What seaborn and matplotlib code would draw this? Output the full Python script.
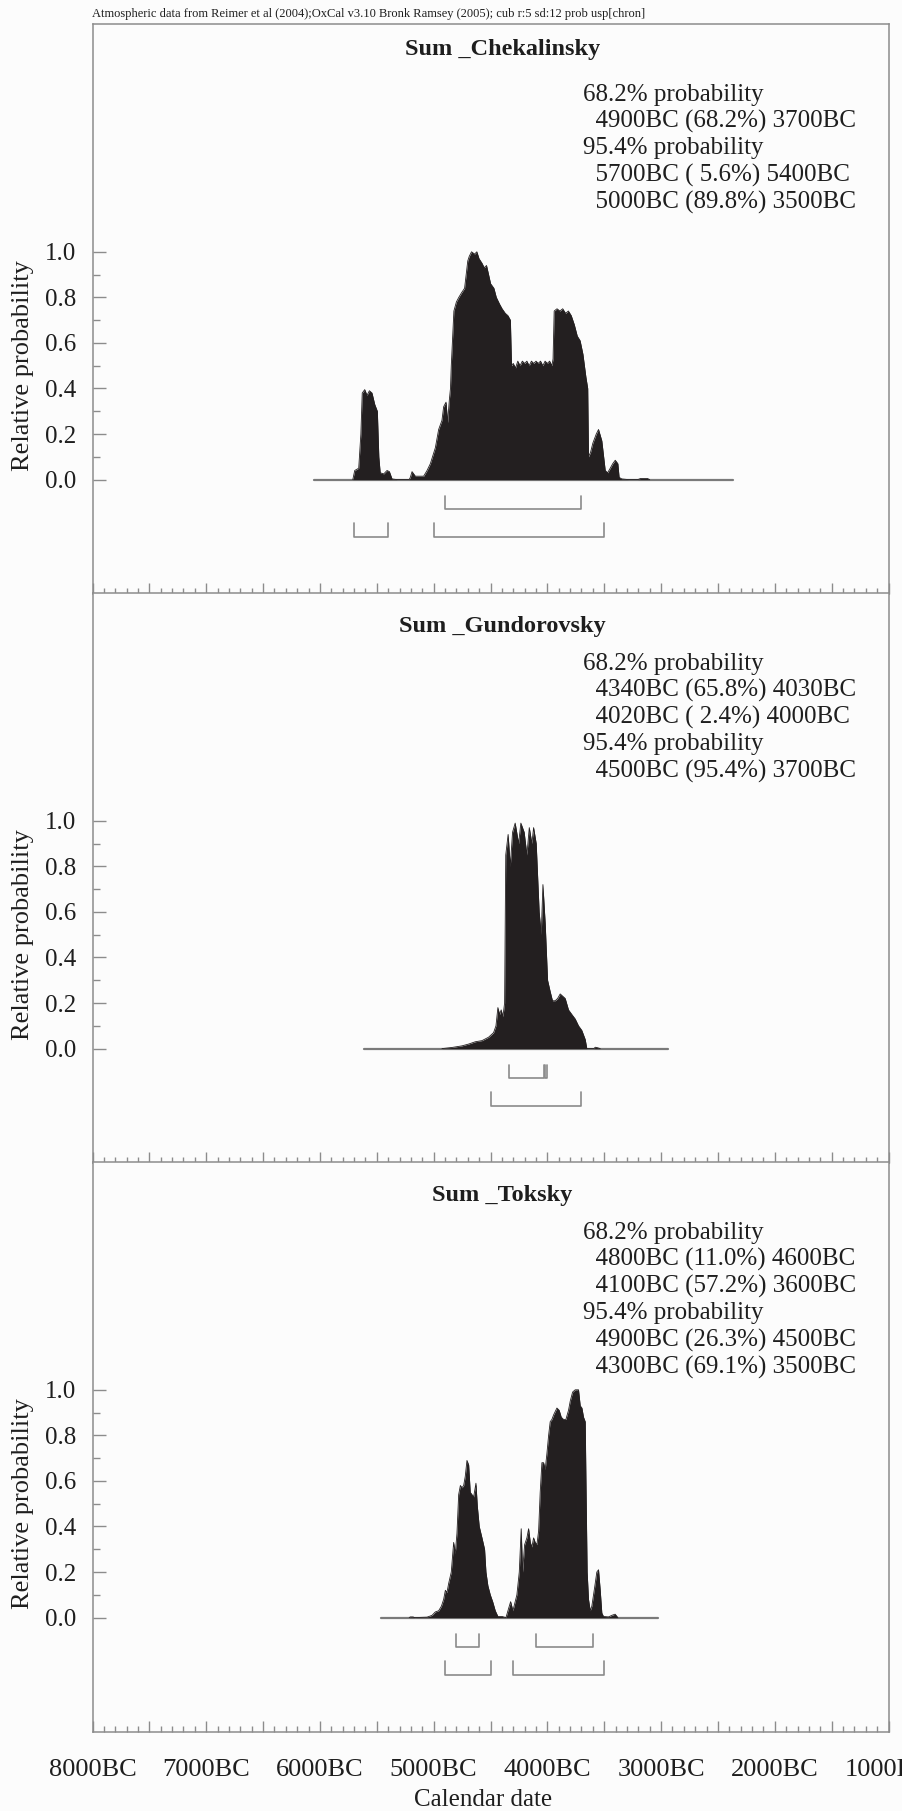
import numpy as np
import pandas as pd
import matplotlib
matplotlib.use("Agg")
import matplotlib.pyplot as plt
import matplotlib.transforms as mtransforms
import seaborn as sns

# Datos (años negativos = BC)
header = ("Atmospheric data from Reimer et al (2004);OxCal v3.10 Bronk Ramsey (2005); "
          "cub r:5 sd:12 prob usp[chron]")

titles = ["Sum _Chekalinsky", "Sum _Gundorovsky", "Sum _Toksky"]

texts_chek = ["68.2% probability", "  4900BC (68.2%) 3700BC",
              "95.4% probability", "  5700BC ( 5.6%) 5400BC", "  5000BC (89.8%) 3500BC"]
texts_gund = ["68.2% probability", "  4340BC (65.8%) 4030BC", "  4020BC ( 2.4%) 4000BC",
              "95.4% probability", "  4500BC (95.4%) 3700BC"]
texts_toks = ["68.2% probability", "  4800BC (11.0%) 4600BC", "  4100BC (57.2%) 3600BC",
              "95.4% probability", "  4900BC (26.3%) 4500BC", "  4300BC (69.1%) 3500BC"]

range68_chek = [(-4900, -3700)]
range95_chek = [(-5700, -5400), (-5000, -3500)]
range68_gund = [(-4340, -4030), (-4020, -4000)]
range95_gund = [(-4500, -3700)]
range68_toks = [(-4800, -4600), (-4100, -3600)]
range95_toks = [(-4900, -4500), (-4300, -3500)]

base_chek = (-6050, -2365)
base_gund = (-5615, -2940)
base_toks = (-5465, -3028)

years_chek = [-5711, -5694, -5659, -5640, -5628, -5606, -5586, -5565, -5542, -5518, -5495,
              -5482, -5470, -5439, -5410, -5389, -5366, -5322, -5215, -5205, -5190, -5161,
              -5088, -5058, -5029, -4985, -4956, -4927, -4912, -4891, -4877, -4862, -4852,
              -4845, -4822, -4800, -4779, -4755, -4728, -4700, -4687, -4667, -4640, -4620,
              -4601, -4575, -4555, -4535, -4499, -4470, -4449, -4420, -4398, -4370, -4347,
              -4325, -4315, -4300, -4280, -4260, -4240, -4220, -4200, -4180, -4160, -4140,
              -4120, -4100, -4080, -4060, -4040, -4020, -4000, -3980, -3960, -3950, -3940,
              -3915, -3890, -3865, -3840, -3815, -3790, -3763, -3737, -3712, -3687, -3661,
              -3645, -3638, -3620, -3600, -3570, -3550, -3521, -3491, -3470, -3447, -3425,
              -3403, -3380, -3369, -3346, -3287, -3205, -3180, -3120, -3100]
prob_chek = [0.0, 0.04, 0.05, 0.2, 0.38, 0.395, 0.37, 0.39, 0.38, 0.33, 0.30,
             0.10, 0.03, 0.025, 0.04, 0.035, 0.003, 0.0, 0.0, 0.01, 0.035, 0.015,
             0.015, 0.04, 0.07, 0.14, 0.22, 0.26, 0.32, 0.34, 0.25, 0.35, 0.40,
             0.50, 0.74, 0.78, 0.80, 0.82, 0.84, 0.96, 0.98, 1.0, 0.99, 1.0,
             0.97, 0.95, 0.93, 0.94, 0.86, 0.84, 0.80, 0.77, 0.75, 0.73, 0.72,
             0.70, 0.50, 0.51, 0.49, 0.52, 0.50, 0.52, 0.51, 0.52, 0.50, 0.52,
             0.51, 0.52, 0.51, 0.52, 0.50, 0.52, 0.51, 0.52, 0.50, 0.53, 0.74,
             0.75, 0.74, 0.75, 0.73, 0.74, 0.72, 0.68, 0.63, 0.61, 0.55, 0.45,
             0.40, 0.10, 0.12, 0.16, 0.20, 0.22, 0.17, 0.04, 0.03, 0.05, 0.07,
             0.085, 0.07, 0.01, 0.003, 0.0, 0.0, 0.005, 0.005, 0.0]

years_gund = [-4927, -4839, -4751, -4692, -4634, -4575, -4517, -4473, -4452, -4435, -4420,
              -4406, -4391, -4376, -4366, -4345, -4326, -4306, -4283, -4253, -4233, -4204,
              -4180, -4159, -4136, -4121, -4098, -4072, -4054, -4039, -4019, -3998, -3975,
              -3955, -3931, -3910, -3887, -3865, -3843, -3814, -3785, -3755, -3726, -3697,
              -3667, -3653, -3638, -3590, -3579, -3560, -3535]
prob_gund = [0.0, 0.005, 0.012, 0.02, 0.03, 0.035, 0.05, 0.07, 0.10, 0.18, 0.15,
             0.17, 0.14, 0.20, 0.85, 0.94, 0.80, 0.95, 0.99, 0.90, 0.99, 0.95,
             0.85, 0.97, 0.90, 0.97, 0.90, 0.60, 0.50, 0.72, 0.55, 0.30, 0.25,
             0.21, 0.21, 0.22, 0.24, 0.23, 0.22, 0.17, 0.15, 0.13, 0.10, 0.08,
             0.04, 0.0, 0.0, 0.0, 0.006, 0.004, 0.0]

years_toks = [-5215, -5205, -5180, -5170, -5058, -5014, -4985, -4956, -4932, -4912, -4897,
              -4883, -4868, -4845, -4824, -4810, -4795, -4780, -4765, -4751, -4736, -4722,
              -4707, -4692, -4678, -4663, -4648, -4628, -4616, -4599, -4575, -4552, -4540,
              -4523, -4502, -4481, -4458, -4435, -4399, -4364, -4341, -4323, -4303, -4268,
              -4247, -4230, -4218, -4200, -4180, -4165, -4150, -4136, -4121, -4107, -4092,
              -4077, -4063, -4048, -4033, -4019, -4004, -3989, -3975, -3960, -3945, -3916,
              -3896, -3878, -3858, -3837, -3814, -3799, -3778, -3755, -3726, -3711, -3696,
              -3682, -3667, -3658, -3650, -3638, -3623, -3609, -3585, -3565, -3550, -3535,
              -3521, -3506, -3462, -3433, -3404, -3380]
prob_toks = [0.0, 0.003, 0.003, 0.0, 0.002, 0.01, 0.025, 0.03, 0.05, 0.08, 0.12,
             0.11, 0.15, 0.20, 0.33, 0.28, 0.37, 0.54, 0.58, 0.57, 0.58, 0.62,
             0.69, 0.67, 0.55, 0.54, 0.53, 0.59, 0.49, 0.40, 0.35, 0.30, 0.20,
             0.14, 0.10, 0.07, 0.03, 0.005, 0.005, 0.0, 0.04, 0.07, 0.03, 0.10,
             0.20, 0.39, 0.20, 0.32, 0.35, 0.39, 0.33, 0.31, 0.35, 0.33, 0.32,
             0.38, 0.55, 0.68, 0.68, 0.65, 0.72, 0.80, 0.86, 0.87, 0.89, 0.92,
             0.91, 0.88, 0.87, 0.87, 0.91, 0.95, 0.99, 1.0, 1.0, 0.93, 0.92,
             0.88, 0.86, 0.50, 0.20, 0.08, 0.03, 0.05, 0.13, 0.20, 0.21, 0.12,
             0.02, 0.005, 0.003, 0.01, 0.015, 0.0]

xtick_years = list(range(-8000, -999, 500))
ytick_vals = [0.0, 0.2, 0.4, 0.6, 0.8, 1.0]

panels = [
    (titles[0], texts_chek, years_chek, prob_chek, base_chek, range68_chek, range95_chek),
    (titles[1], texts_gund, years_gund, prob_gund, base_gund, range68_gund, range95_gund),
    (titles[2], texts_toks, years_toks, prob_toks, base_toks, range68_toks, range95_toks),
]

# Estilo
sns.set_theme(style="white")
plt.rcParams['font.family'] = ['Liberation Serif', 'DejaVu Serif']
frame_col = "#8c8c8c"
fill_col = "#231f20"
text_col = "#1e1e1e"
bg = "#fcfcfc"

W, H = 902, 1811
fig = plt.figure(figsize=(W / 100, H / 100), dpi=100, facecolor=bg)

left_px, right_px = 92.5, 888.5
tops = [24, 593, 1162]
ph = 569.5

fig.text(92 / W, 1 - 14 / H, header, fontsize=9, color=text_col, va="center", ha="left")

for i, (title, lines, yrs, prb, base, r68, r95) in enumerate(panels):
    ax = fig.add_axes([left_px / W, 1 - (tops[i] + ph) / H, (right_px - left_px) / W, ph / H])
    ax.set_facecolor(bg)
    df = pd.DataFrame({"year": yrs, "prob": prb})

    # linea base
    sns.lineplot(x=list(base), y=[0, 0], ax=ax, color="#7a7a7a", linewidth=1.6, zorder=2)
    ax.fill_between(df["year"], 0, df["prob"], color=fill_col, linewidth=0, zorder=3)
    sns.lineplot(data=df, x="year", y="prob", ax=ax, color=fill_col, linewidth=0.6,
                 sort=False, estimator=None, zorder=3)

    # rangos
    for (a, b) in r68:
        ax.plot([a, a, b, b], [-0.07, -0.127, -0.127, -0.07], color="#8a8a8a", lw=1.2, zorder=2)
    for (a, b) in r95:
        ax.plot([a, a, b, b], [-0.19, -0.25, -0.25, -0.19], color="#8a8a8a", lw=1.2, zorder=2)

    ax.set_xlim(-8000, -1000)
    ax.set_ylim(-0.5, 2.0)

    trans = mtransforms.blended_transform_factory(ax.transAxes, ax.transData)
    ax.text(0.515, 1.89 if i == 0 else 1.855, title, transform=trans, ha="center", va="center",
            fontsize=17.5, fontweight="bold", color=text_col)
    for k, line in enumerate(lines):
        ax.text(0.616, 1.69 - 0.118 * k, line, transform=trans, ha="left", va="center",
                fontsize=18, color=text_col)
    ax.text(-0.087, 0.5, "Relative probability", transform=trans, rotation=90,
            ha="center", va="center", fontsize=19, color=text_col)

    ax.set_yticks(ytick_vals)
    ax.set_yticklabels([f"{v:.1f}" for v in ytick_vals])
    ax.set_yticks(np.arange(0.1, 1.0, 0.2), minor=True)
    ax.set_xticks(xtick_years)
    ax.set_xticks(range(-8000, -999, 100), minor=True)
    if i == 2:
        ax.set_xticklabels([f"{-v}BC" if v % 1000 == 0 else "" for v in xtick_years])
    else:
        ax.set_xticklabels([])
    ax.set_xlabel("")
    ax.set_ylabel("")

    ax.tick_params(axis="both", which="both", direction="in", colors=frame_col,
                   labelcolor=text_col, labelsize=18, width=1)
    ax.tick_params(axis="y", which="major", length=9.5, pad=12, left=True)
    ax.tick_params(axis="y", which="minor", length=5, left=True)
    ax.tick_params(axis="x", which="major", length=8, pad=20, bottom=True, labelsize=19)
    ax.tick_params(axis="x", which="minor", length=4.5, bottom=True)
    for s in ax.spines.values():
        s.set_color(frame_col)
        s.set_linewidth(1.1)
    if i < 2:
        ax.spines["bottom"].set_zorder(5)

fig.text(483 / W, 1 - 1800 / H, "Calendar date", fontsize=18, color=text_col,
         ha="center", va="center")

fig.savefig("out.png", dpi=100, facecolor=bg)
